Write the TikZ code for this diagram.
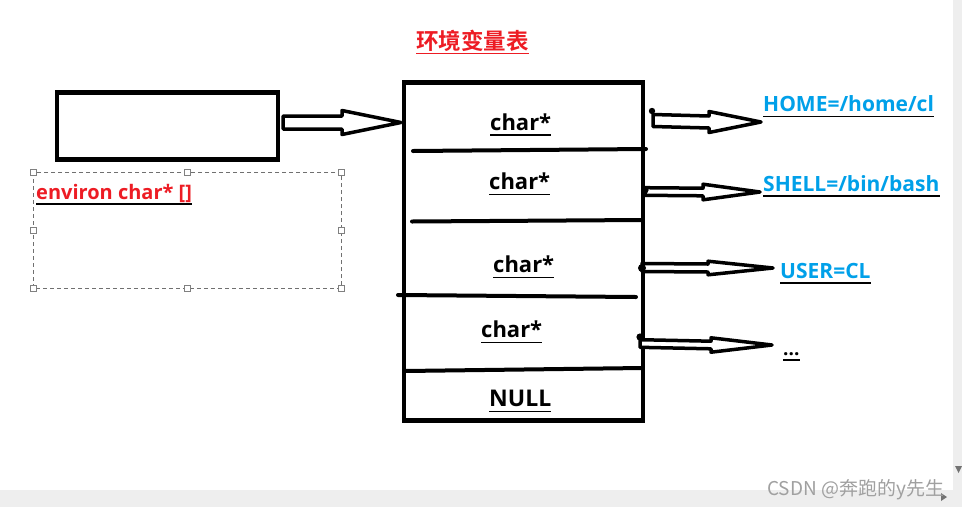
\documentclass[tikz,border=0pt]{standalone}
\usepackage{fontspec}
\setmainfont{Open Sans}
\newfontfamily\cjkbold{Noto Sans CJK SC}[BoldFont=* Bold]
\newfontfamily\cjkreg{Noto Sans CJK SC}
\usetikzlibrary{calc}
\definecolor{tred}{RGB}{237,28,36}
\definecolor{tblue}{RGB}{0,160,233}
\definecolor{sgrey}{RGB}{238,238,238}
\definecolor{wgrey}{RGB}{160,160,160}
\tikzset{
  thick box/.style={draw=black,line width=4.3pt},
  divider/.style={draw=black,line width=4pt,line cap=round},
  harrowline/.style={draw=black,fill=white,line width=3.5pt,line join=round},
  lbl/.style={inner sep=0pt,anchor=base west,font=\bfseries\fontsize{22}{26}\selectfont},
  bluelbl/.style={text=tblue,font=\bfseries\fontsize{21}{25}\selectfont},
  handle/.style={draw=wgrey!80!black,fill=white,line width=0.8pt},
}
\newcommand\harrow[5]{%
  \draw[harrowline] ($(#1)+(0,-#3)$) -- ($(#2)+(-#5,-#3)$) -- ($(#2)+(-#5,-#4)$) -- (#2)
    -- ($(#2)+(-#5,#4)$) -- ($(#2)+(-#5,#3)$) -- ($(#1)+(0,#3)$) -- cycle;}
\newcommand\ulnode[5][1.4]{%
  \node[lbl,#4] (#2) at (#3) {#5};
  \draw[line width=#1pt,draw=.] ($(#2.base west)+(0,5)$) -- ($(#2.base east)+(0,5)$);}
\begin{document}
\begin{tikzpicture}[x=1pt,y=-1pt]
\useasboundingbox (0,0) rectangle (962,507);
\fill[white] (0,0) rectangle (962,507);
% window chrome
\fill[sgrey] (953,0) rectangle (962,490);
\fill[sgrey] (0,490) rectangle (962,507);
\fill[black!55] (955,466) -- (962,466) -- (958.5,473) -- cycle;
\fill[black!55] (941,493) -- (941,501) -- (947,497) -- cycle;
\node[inner sep=0pt,anchor=base west,text=wgrey,font=\cjkreg\fontsize{19}{22}\selectfont] (wm) at (767,495) {CSDN @奔跑的y先生};

% title
\node[inner sep=0pt,anchor=base west,text=tred,font=\cjkbold\bfseries\fontsize{22.5}{26}\selectfont] (title) at (416,49) {环境变量表};
\draw[tred,line width=1.4pt] ($(title.base west)+(0,4.5)$) -- ($(title.base east)+(0,4.5)$);

% left box
\node[thick box,minimum width=221pt,minimum height=67pt,inner sep=0pt] (env) at (167.5,126) {};

% dashed selection frame
\draw[wgrey!70!black,line width=0.9pt,dash pattern=on 4pt off 3pt] (33,172) rectangle (341,288);
\foreach \hx in {33,187,341}{\foreach \hy in {172,230,288}{
  \ifnum\hx=187 \ifnum\hy=230 \else \draw[handle] (\hx-3,\hy-3) rectangle (\hx+3,\hy+3);\fi
  \else \draw[handle] (\hx-3,\hy-3) rectangle (\hx+3,\hy+3);\fi}}
\ulnode{envlbl}{36,199}{text=tred,font=\bfseries\fontsize{20}{24}\selectfont}{environ char* []}

% table
\node[thick box,minimum width=239pt,minimum height=338pt,inner sep=0pt] (tbl) at (523.5,251.5) {};
\draw[divider] (413,151) -- (646,149);
\draw[divider] (412,221.5) -- (642,220);
\draw[divider] (398,295) -- (636,297);
\draw[divider] (405,371) -- (642,368);

\ulnode{c1}{490,130}{text=black}{char*}
\ulnode{c2}{489,189.5}{text=black}{char*}
\ulnode{c3}{493,272.5}{text=black}{char*}
\ulnode{c4}{481,337.5}{text=black}{char*}
\ulnode{nul}{489,406.5}{text=black,font=\bfseries\fontsize{23}{26}\selectfont}{NULL}

% left arrow
\coordinate (a0) at ($(env.east)+(3,-3.5)$);
\coordinate (a1) at (401,122.5);
\harrow{a0}{a1}{6.5}{12}{59}

% right arrows
\coordinate (s1) at (653,120.5); \coordinate (e1) at (761,122);
\coordinate (s2) at (645,191.5); \coordinate (e2) at (760,192);
\coordinate (s3) at (642,267.5); \coordinate (e3) at (773,268);
\coordinate (s4) at (640,343.5); \coordinate (e4) at (772,345);
\harrow{s1}{e1}{6}{10.5}{52}
\harrow{s2}{e2}{3.8}{7.8}{57}
\harrow{s3}{e3}{4}{6.8}{65}
\harrow{s4}{e4}{3.8}{7.2}{61}
\fill (652,111) circle (3.2);
\fill (645,190) circle (3.6);
\fill (642,268) circle (4);
\fill (640,337) circle (3.6);

% values
\ulnode{home}{763,111.5}{bluelbl}{HOME=/home/cl}
\ulnode{shell}{763,191}{bluelbl}{SHELL=/bin/bash}
\ulnode{user}{780,278}{bluelbl}{USER=CL}
\ulnode[1.2]{dots}{783,355}{text=black,font=\bfseries\fontsize{19}{22}\selectfont}{...}
\end{tikzpicture}
\end{document}
